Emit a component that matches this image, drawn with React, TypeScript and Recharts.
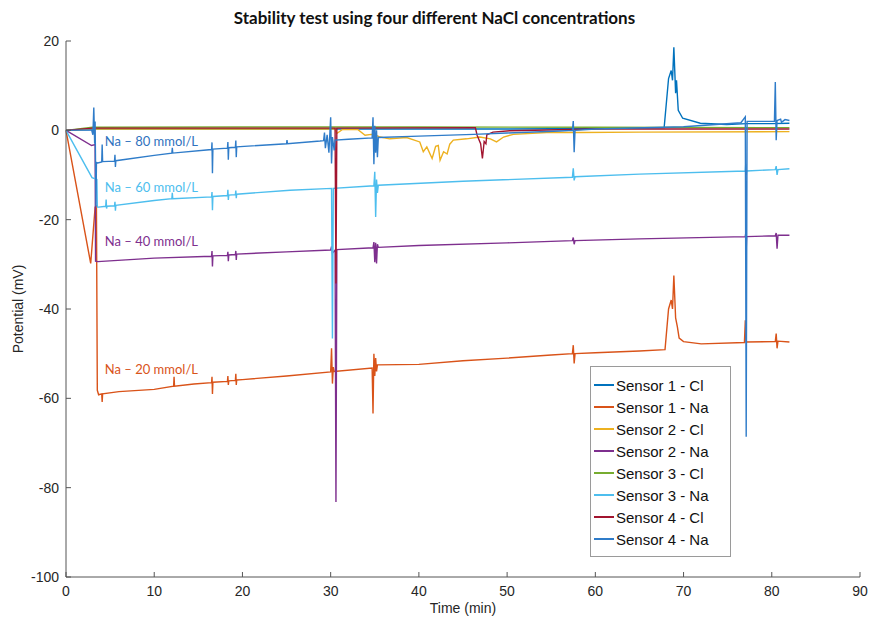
import { LineChart, Line, XAxis, YAxis, ReferenceDot, Label } from 'recharts';

type Pt = [number, number];

// [time (min), potential (mV)]
const sensor1Cl: Pt[] = [
  [0, 0], [3, 0.2], [3.1, 0.3], [10, 0.3], [20, 0.3], [30, 0.3], [40, 0.3], [50, 0.3], [60, 0.4],
  [67.8, 0.6], [68.3, 11.6], [68.6, 13.4], [68.75, 11.2], [68.9, 18.6], [69.1, 8.3], [69.2, 11.2],
  [69.4, 4.5], [69.9, 2.7], [71.9, 1.6], [74.9, 1.3], [77.2, 1.5], [80, 1.5], [82, 1.6],
];

const sensor1Na: Pt[] = [
  [0, 0], [2.8, -29.8], [3.3, -17.2], [3.45, -17], [3.55, -58.2], [3.7, -59.2], [4.05, -59], [4.1, -60.8],
  [4.15, -59], [6, -58.5], [10, -58], [12.2, -57.3], [12.25, -55.2], [12.3, -57.3], [14.5, -56.8],
  [16.5, -56.5], [16.55, -55.2], [16.6, -59], [16.65, -56.4], [18.3, -56.2], [18.35, -55], [18.4, -57],
  [18.45, -56.1], [19.2, -56], [19.25, -54.5], [19.3, -57], [19.35, -55.9], [20, -55.8], [25, -55],
  [30, -54.1], [30.1, -48.8], [30.2, -56.7], [30.3, -53], [30.4, -54], [34.7, -53.2], [34.8, -63.4],
  [34.9, -50], [35, -55], [35.1, -51], [35.2, -54], [35.3, -52.5], [40, -52.4], [45, -51.6], [50, -51],
  [55, -50.3], [57.4, -50], [57.5, -48.1], [57.6, -52.2], [57.7, -50], [60, -49.8], [65, -49.4],
  [67.9, -49.1], [68.3, -40], [68.6, -38], [68.75, -40], [68.9, -32.5], [69.1, -42], [69.3, -44],
  [69.5, -46.5], [70, -47.3], [72, -47.8], [76.9, -47.5], [77, -42.5], [77.1, -47.4], [80.4, -47.3],
  [80.5, -45.5], [80.6, -48.8], [80.7, -47.2], [82, -47.4],
];

const sensor2Cl: Pt[] = [
  [0, 0], [3, 0.3], [10, 0.3], [20, 0.3], [30.5, 0.3], [30.7, -0.7], [31.3, 0.15], [33.1, 0.15],
  [33.9, -1.1], [34.6, -0.9], [35, -1], [35.6, -1.5], [36.7, -1.9], [38.6, -1.6], [40.1, -2.6],
  [40.5, -4.8], [40.9, -3.7], [41.5, -6.3], [41.9, -3.6], [42.2, -3.4], [42.4, -6.7], [42.8, -4.8],
  [43.2, -5.3], [43.5, -3.1], [43.9, -2.2], [45.4, -1.9], [46.9, -1.5], [48.1, -1.9], [48.8, -2.6],
  [49.6, -1.5], [50.7, -0.9], [54.5, -0.5], [58.3, -0.5], [65, -0.4], [82, -0.3],
];

const sensor2Na: Pt[] = [
  [0, 0], [2.9, -3.4], [3.3, -3.2], [3.35, -29.3], [3.6, -29.4], [10, -28.6], [16.5, -28.2],
  [16.55, -27], [16.6, -30.5], [16.65, -28.1], [18.3, -28], [18.35, -27.2], [18.4, -29.3],
  [18.45, -27.9], [19.2, -27.8], [19.25, -27], [19.3, -29], [19.35, -27.7], [25, -27.2], [30, -26.8],
  [30.1, -26], [30.2, -27.5], [30.5, -26.8], [30.6, -83.2], [30.7, -26.7], [34.8, -26.3], [34.9, -25],
  [35, -29.5], [35.1, -25.2], [35.2, -29.8], [35.3, -25.5], [35.4, -26.2], [40, -25.8], [50, -25.2],
  [57.4, -24.7], [57.5, -24], [57.6, -25.5], [57.7, -24.7], [65, -24.3], [77, -23.8], [77.05, -23],
  [77.1, -27], [77.15, -23.8], [80.4, -23.6], [80.5, -23], [80.6, -26.5], [80.7, -23.5], [82, -23.5],
];

const sensor3Cl: Pt[] = [
  [0, 0], [3, 0.7], [20, 0.75], [40, 0.75], [60, 0.7], [82, 0.6],
];

const sensor3Na: Pt[] = [
  [0, 0], [2.95, -10.6], [3.5, -11], [3.55, -17.2], [3.7, -17.2], [4.5, -17], [4.55, -15.5],
  [4.6, -17.5], [4.65, -17], [5.5, -16.9], [5.55, -16], [5.6, -18], [5.65, -16.8], [10, -15.7],
  [12, -15.3], [12.05, -14], [12.1, -15.3], [16.5, -14.9], [16.55, -13.8], [16.6, -17.9],
  [16.65, -14.8], [18.3, -14.6], [18.35, -13.3], [18.4, -15.6], [18.45, -14.5], [19.2, -14.4],
  [19.25, -13.5], [19.3, -15.2], [19.35, -14.3], [25.4, -13.4], [30.1, -13], [30.2, -46.6],
  [30.3, -13], [34.9, -12.4], [35, -9.3], [35.1, -19.4], [35.2, -11], [35.3, -14], [35.4, -12.3],
  [45, -11.4], [57.4, -10.5], [57.5, -8.5], [57.6, -11.2], [57.7, -10.4], [65, -9.8], [77, -9.1],
  [77.05, -7.5], [77.1, -10], [77.15, -9.1], [80.4, -8.8], [80.5, -8], [80.6, -10], [80.7, -8.8],
  [82, -8.6],
];

const sensor4Cl: Pt[] = [
  [0, 0], [3, 0.5], [30.5, 0.5], [30.6, -34.3], [30.7, 0.5], [46.4, 0.6], [46.6, -1.1], [47, -3],
  [47.2, -6.3], [47.4, -2.5], [47.6, -3], [47.7, -1], [48.4, -0.4], [50.3, -0.1], [60, 0.3], [82, 0.3],
];

const sensor4Na: Pt[] = [
  [0, 0], [2.9, 0.1], [3.05, -1], [3.15, 5.1], [3.25, -3], [3.3, 2], [3.4, -17], [3.45, -7.2],
  [3.6, -7.3], [4.05, -7.1], [4.1, -3.2], [4.15, -7], [5.5, -6.9], [5.55, -5.5], [5.6, -8.2],
  [5.65, -6.8], [10, -5.6], [12, -5.1], [12.05, -3.9], [12.1, -5.1], [16.5, -4.3], [16.55, -2.7],
  [16.6, -9.6], [16.65, -4.2], [18.3, -4], [18.35, -2.6], [18.4, -6.6], [18.45, -3.9], [19.2, -3.8],
  [19.25, -2.3], [19.3, -6], [19.35, -3.7], [25, -3], [25.05, -2.2], [25.1, -3], [28.8, -2.4],
  [29.2, -2.3], [29.3, -0.5], [29.4, -4], [29.6, -1], [29.8, -5], [30, 2.9], [30.1, -7.4], [30.2, -1.5],
  [30.4, -4.5], [30.5, -2.2], [32, -2], [34.7, -1.7], [34.8, 2.9], [34.9, -7.6], [35, 1], [35.1, -5],
  [35.2, 0], [35.3, -6], [35.4, -1.6], [40, -1.3], [46.2, -0.9], [50, -0.6], [56, -0.15], [57.4, 0],
  [57.5, 2.1], [57.6, -4.9], [57.7, 0], [60, 0.3], [70, 0.8], [76.5, 1.7], [77, 3], [77.1, -68.6],
  [77.2, 2], [80.3, 2], [80.4, 10.8], [80.5, -2.2], [80.6, 2.2], [81, 2.5], [81.1, 1.8], [81.5, 2.4],
  [82, 2.2],
];

const seriesData: Pt[][] = [sensor1Cl, sensor1Na, sensor2Cl, sensor2Na, sensor3Cl, sensor3Na, sensor4Cl, sensor4Na];
const seriesNames = [
  'Sensor 1 - Cl', 'Sensor 1 - Na', 'Sensor 2 - Cl', 'Sensor 2 - Na',
  'Sensor 3 - Cl', 'Sensor 3 - Na', 'Sensor 4 - Cl', 'Sensor 4 - Na',
];
const seriesColors = ['#0072BD', '#D95319', '#EDB120', '#7E2F8E', '#77AC30', '#4DBEEE', '#A2142F', '#2F7CC9'];

const xTicks = [0, 10, 20, 30, 40, 50, 60, 70, 80, 90];
const yTicks = [-100, -80, -60, -40, -20, 0, 20];

const noteTexts = ['Na – 80 mmol/L', 'Na – 60 mmol/L', 'Na – 40 mmol/L', 'Na – 20 mmol/L'];
const noteAnchors: Pt[] = [[4.4, -2.5], [4.4, -12.8], [4.4, -25], [4.4, -53.7]];
const noteColors = ['#2F72BE', '#4DBEEE', '#7E2F8E', '#D95319'];

const axisColor = '#555';
const textColor = '#262626';
const tickFont = '"Liberation Sans", Arial, sans-serif';
const noteFont = 'Lato, "Open Sans", sans-serif';

const XTick = (props: any) => {
  const { x, y, payload } = props;
  return (
    <g>
      <line x1={x} x2={x} y1={y} y2={y - 5} stroke={axisColor} strokeWidth={1} />
      <text x={x} y={y + 19} textAnchor="middle" fontSize={14} fill={textColor} style={{ fontFamily: tickFont }}>
        {payload.value}
      </text>
    </g>
  );
};

const YTick = (props: any) => {
  const { x, y, payload } = props;
  return (
    <g>
      <line x1={x} x2={x + 5} y1={y} y2={y} stroke={axisColor} strokeWidth={1} />
      <text x={x - 7} y={y + 5} textAnchor="end" fontSize={14} fill={textColor} style={{ fontFamily: tickFont }}>
        {payload.value}
      </text>
    </g>
  );
};

const App = () => {
  const lines = seriesData.map((s) => s.map(([t, v]) => ({ t, v })));

  return (
    <div style={{ position: 'relative', width: 869, height: 621, background: '#fff' }}>
      <style>{`body{margin:0}`}</style>
      <div
        style={{
          position: 'absolute', left: 0, top: 7, width: 869, textAlign: 'center',
          fontFamily: noteFont, fontWeight: 700, fontSize: 17, color: '#111',
        }}
      >
        Stability test using four different NaCl concentrations
      </div>
      <LineChart width={869} height={621} margin={{ top: 41, right: 9, left: 0, bottom: 0 }}>
        <XAxis
          dataKey="t"
          type="number"
          domain={[0, 90]}
          ticks={xTicks}
          height={44}
          tickSize={0}
          tickMargin={0}
          tickLine={false}
          axisLine={{ stroke: axisColor }}
          tick={<XTick />}
          allowDuplicatedCategory={false}
        >
          <Label
            content={(p: any) => (
              <text
                x={p.viewBox.x + p.viewBox.width / 2}
                y={p.viewBox.y + 36}
                textAnchor="middle"
                fontSize={14}
                fill={textColor}
                style={{ fontFamily: tickFont }}
              >
                Time (min)
              </text>
            )}
          />
        </XAxis>
        <YAxis
          type="number"
          domain={[-100, 20]}
          ticks={yTicks}
          width={66}
          tickSize={0}
          tickMargin={0}
          tickLine={false}
          axisLine={{ stroke: axisColor }}
          tick={<YTick />}
          allowDataOverflow
        >
          <Label
            content={(p: any) => {
              const cx = p.viewBox.x + 23;
              const cy = p.viewBox.y + p.viewBox.height / 2;
              return (
                <text
                  x={cx}
                  y={cy}
                  transform={`rotate(-90 ${cx} ${cy})`}
                  textAnchor="middle"
                  fontSize={14}
                  fill={textColor}
                  style={{ fontFamily: tickFont }}
                >
                  Potential (mV)
                </text>
              );
            }}
          />
        </YAxis>
        {lines.map((d, i) => (
          <Line
            key={seriesNames[i]}
            data={d}
            dataKey="v"
            name={seriesNames[i]}
            type="linear"
            stroke={seriesColors[i]}
            strokeWidth={1.4}
            dot={false}
            isAnimationActive={false}
          />
        ))}
        {noteTexts.map((txt, i) => (
          <ReferenceDot
            key={txt}
            x={noteAnchors[i][0]}
            y={noteAnchors[i][1]}
            r={0}
            shape={(p: any) => (
              <text
                x={p.cx}
                y={p.cy + 4}
                fontSize={13}
                fill={noteColors[i]}
                style={{ fontFamily: noteFont }}
              >
                {txt}
              </text>
            )}
          />
        ))}
      </LineChart>
      <div
        style={{
          position: 'absolute', left: 590, top: 366, width: 139, height: 182,
          border: '1px solid #9a9a9a', background: '#fff', padding: '7px 0 0 0', boxSizing: 'content-box',
        }}
      >
        {seriesNames.map((n, i) => (
          <div key={n} style={{ display: 'flex', alignItems: 'center', height: 22 }}>
            <div style={{ width: 20, height: 2, background: seriesColors[i], marginLeft: 3, marginRight: 2, flex: 'none' }} />
            <span style={{ fontFamily: tickFont, fontSize: 15, color: '#111' }}>{n}</span>
          </div>
        ))}
      </div>
    </div>
  );
};

export default App;
